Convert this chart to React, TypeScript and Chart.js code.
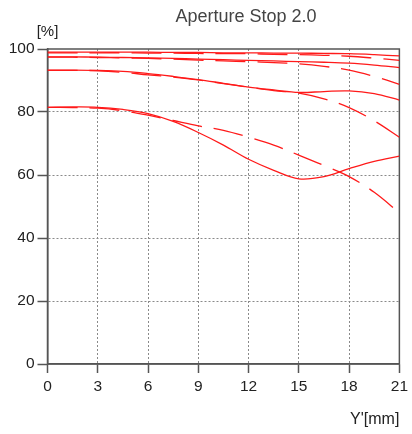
import React, { useEffect, useRef } from "react";
import { Chart, registerables } from "chart.js";

Chart.register(...registerables);

const positions = [0, 1.5, 3, 4.5, 6, 7.5, 9, 10.5, 12, 13.5, 15, 16.5, 18, 19.5, 21];
const xTicks = [0, 3, 6, 9, 12, 15, 18, 21];
const yTicks = [0, 20, 40, 60, 80, 100];

const solid1 = [99.0, 99.0, 99.0, 99.0, 99.0, 98.9, 98.9, 98.8, 98.8, 98.7, 98.7, 98.6, 98.5, 98.2, 97.8];
const dashed1 = [98.8, 98.8, 98.8, 98.8, 98.7, 98.7, 98.6, 98.5, 98.5, 98.3, 98.2, 98.0, 97.7, 97.1, 96.4];
const solid2 = [97.5, 97.5, 97.4, 97.3, 97.2, 97.0, 96.8, 96.6, 96.4, 96.2, 96.0, 95.8, 95.5, 94.9, 94.1];
const dashed2 = [97.4, 97.4, 97.3, 97.2, 97.0, 96.8, 96.5, 96.2, 96.0, 95.7, 95.3, 94.5, 93.3, 91.3, 88.8];
const solid3 = [93.3, 93.3, 93.2, 92.9, 92.2, 91.3, 90.3, 89.1, 87.9, 87.0, 86.2, 86.5, 86.7, 85.8, 83.8];
const dashed3 = [93.2, 93.2, 93.1, 92.6, 91.8, 91.1, 90.2, 89.0, 87.9, 86.8, 86.0, 84.2, 81.4, 77.2, 72.0];
const solid4 = [81.5, 81.6, 81.5, 80.8, 79.5, 77.0, 73.5, 69.5, 65.0, 61.5, 58.8, 59.5, 62.0, 64.3, 66.0];
const dashed4 = [81.5, 81.4, 81.2, 80.4, 79.0, 77.3, 75.6, 74.2, 72.0, 69.5, 66.3, 63.0, 59.5, 54.5, 48.0];

const titleText = "Aperture Stop 2.0";
const yUnitText = "[%]";
const xUnitText = "Y'[mm]";

const FONT = "'Liberation Sans', Arial, sans-serif";
const RED = "#ff1a1a";

function series(values: number[], dashed: boolean) {
  return {
    data: positions.map((x, i) => ({ x, y: values[i] })),
    borderColor: RED,
    borderWidth: 1.3,
    borderDash: dashed ? [30, 12] : [],
    pointRadius: 0,
    tension: 0.35,
    fill: false,
  };
}

const textPlugin = {
  id: "extraText",
  beforeDatasetsDraw(chart: any) {
    const { ctx, chartArea } = chart;
    ctx.save();
    ctx.strokeStyle = "#555";
    ctx.lineWidth = 1.5;
    ctx.strokeRect(chartArea.left, chartArea.top, chartArea.right - chartArea.left, chartArea.bottom - chartArea.top);
    ctx.restore();
  },
  afterDraw(chart: any) {
    const { ctx, chartArea } = chart;
    ctx.save();
    ctx.fillStyle = "#444";
    ctx.font = `18px ${FONT}`;
    ctx.textAlign = "center";
    ctx.textBaseline = "alphabetic";
    ctx.fillText(titleText, 246, 22);
    ctx.fillStyle = "#222";
    ctx.font = `15px ${FONT}`;
    ctx.textAlign = "center";
    ctx.textBaseline = "middle";
    ctx.fillText(yUnitText, chartArea.left, 32);
    ctx.font = `16px ${FONT}`;
    ctx.textAlign = "right";
    ctx.fillText(xUnitText, chartArea.right, 420);
    ctx.restore();
  },
};

export default function App() {
  const ref = useRef<HTMLCanvasElement | null>(null);
  useEffect(() => {
    if (!ref.current) return;
    const chart = new Chart(ref.current, {
      type: "line",
      data: {
        datasets: [
          series(solid1, false),
          series(dashed1, true),
          series(solid2, false),
          series(dashed2, true),
          series(solid3, false),
          series(dashed3, true),
          series(solid4, false),
          series(dashed4, true),
        ],
      },
      options: {
        animation: false,
        responsive: true,
        maintainAspectRatio: false,
        layout: { padding: { top: 49, right: 10.5, left: 0, bottom: 0 } },
        plugins: { legend: { display: false }, tooltip: { enabled: false }, title: { display: false } },
        scales: {
          x: {
            type: "linear",
            min: 0,
            max: 21,
            afterBuildTicks: (s: any) => {
              s.ticks = xTicks.map((v) => ({ value: v }));
            },
            afterFit: (s: any) => {
              s.height = 70;
            },
            ticks: { color: "#222", font: { family: FONT, size: 15.5 }, padding: 4, maxRotation: 0 },
            grid: {
              color: (c: any) => (c.tick && (c.tick.value === 0 || c.tick.value === 21) ? "rgba(0,0,0,0)" : "#8a8a8a"),
              lineWidth: 1,
              tickLength: 9,
              tickColor: "#555",
              tickWidth: 1.5,
              tickBorderDash: [],
            },
            border: { display: true, color: "#555", width: 1.5, dash: [2, 2] },
          },
          y: {
            type: "linear",
            min: 0,
            max: 100,
            afterBuildTicks: (s: any) => {
              s.ticks = yTicks.map((v) => ({ value: v }));
            },
            afterFit: (s: any) => {
              s.width = 47.5;
            },
            ticks: { color: "#222", font: { family: FONT, size: 15.5 }, padding: 3 },
            grid: {
              color: (c: any) => (c.tick && (c.tick.value === 0 || c.tick.value === 100) ? "rgba(0,0,0,0)" : "#8a8a8a"),
              lineWidth: 1,
              tickLength: 10,
              tickColor: "#555",
              tickWidth: 1.5,
              tickBorderDash: [],
            },
            border: { display: true, color: "#555", width: 1.5, dash: [2, 2] },
          },
        },
      },
      plugins: [textPlugin],
    });
    return () => chart.destroy();
  }, []);
  return (
    <div style={{ position: "fixed", left: 0, top: 0, width: 412, height: 434 }}>
      <canvas ref={ref} />
    </div>
  );
}
